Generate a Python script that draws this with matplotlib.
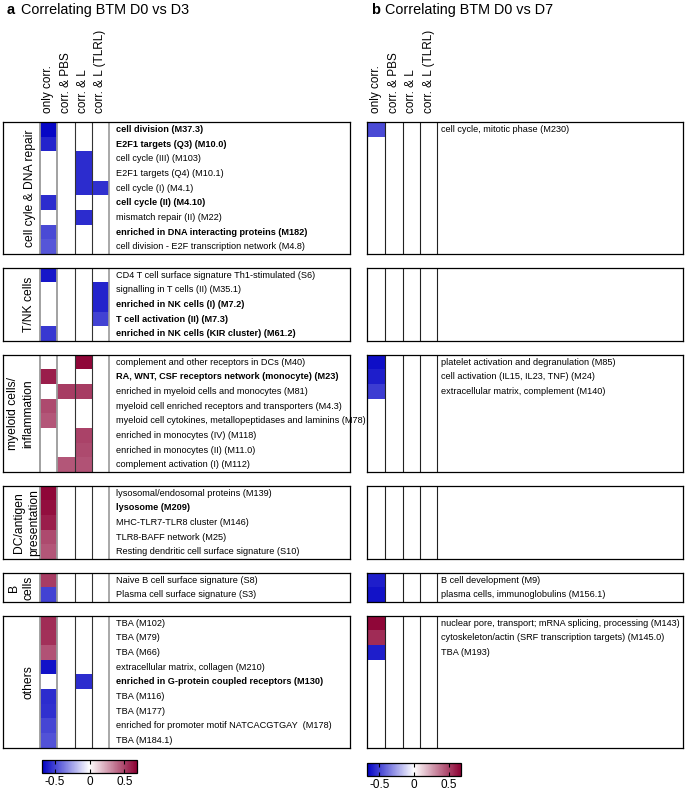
import numpy as np
import matplotlib
matplotlib.use("Agg")
import matplotlib.pyplot as plt
from matplotlib.colors import LinearSegmentedColormap, Normalize
from matplotlib.cm import ScalarMappable

plt.rcParams['font.family'] = ['Liberation Sans', 'DejaVu Sans']

nan = np.nan

# column headers
columns = ['only corr.', 'corr. & PBS', 'corr. & L', 'corr. & L (TLRL)']

# group names (panel a and b share them)
groups = ['cell cyle & DNA repair', 'T/NK cells', 'myeloid cells/\ninflammation',
          'DC/antigen\npresentation', 'B\ncells', 'others']

# ---- panel a: D0 vs D3 ----
cc_labels = ['cell division (M37.3)', 'E2F1 targets (Q3) (M10.0)', 'cell cycle (III) (M103)',
             'E2F1 targets (Q4) (M10.1)', 'cell cycle (I) (M4.1)', 'cell cycle (II) (M4.10)',
             'mismatch repair (II) (M22)', 'enriched in DNA interacting proteins (M182)',
             'cell division - E2F transcription network (M4.8)']
cc_bold = [1, 1, 0, 0, 0, 1, 0, 1, 0]
cc_vals = [[-0.66, nan, nan, nan],
           [-0.58, nan, nan, nan],
           [nan, nan, -0.56, nan],
           [nan, nan, -0.56, nan],
           [nan, nan, -0.56, -0.55],
           [-0.56, nan, nan, nan],
           [nan, nan, -0.56, nan],
           [-0.48, nan, nan, nan],
           [-0.45, nan, nan, nan]]

tnk_labels = ['CD4 T cell surface signature Th1-stimulated (S6)', 'signalling in T cells (II) (M35.1)',
              'enriched in NK cells (I) (M7.2)', 'T cell activation (II) (M7.3)',
              'enriched in NK cells (KIR cluster) (M61.2)']
tnk_bold = [0, 0, 1, 1, 1]
tnk_vals = [[-0.62, nan, nan, nan],
            [nan, nan, nan, -0.58],
            [nan, nan, nan, -0.58],
            [nan, nan, nan, -0.5],
            [-0.53, nan, nan, nan]]

mye_labels = ['complement and other receptors in DCs (M40)',
              'RA, WNT, CSF receptors network (monocyte) (M23)',
              'enriched in myeloid cells and monocytes (M81)',
              'myeloid cell enriched receptors and transporters (M4.3)',
              'myeloid cell cytokines, metallopeptidases and laminins (M78)',
              'enriched in monocytes (IV) (M118)', 'enriched in monocytes (II) (M11.0)',
              'complement activation (I) (M112)']
mye_bold = [0, 1, 0, 0, 0, 0, 0, 0]
mye_vals = [[nan, nan, 0.66, nan],
            [0.6, nan, nan, nan],
            [nan, 0.52, 0.52, nan],
            [0.48, nan, nan, nan],
            [0.45, nan, nan, nan],
            [nan, nan, 0.5, nan],
            [nan, nan, 0.48, nan],
            [nan, 0.45, 0.46, nan]]

dc_labels = ['lysosomal/endosomal proteins (M139)', 'lysosome (M209)', 'MHC-TLR7-TLR8 cluster (M146)',
             'TLR8-BAFF network (M25)', 'Resting dendritic cell surface signature (S10)']
dc_bold = [0, 1, 0, 0, 0]
dc_vals = [[0.66, nan, nan, nan],
           [0.64, nan, nan, nan],
           [0.6, nan, nan, nan],
           [0.48, nan, nan, nan],
           [0.45, nan, nan, nan]]

b_labels = ['Naive B cell surface signature (S8)', 'Plasma cell surface signature (S3)']
b_bold = [0, 0]
b_vals = [[0.52, nan, nan, nan],
          [-0.5, nan, nan, nan]]

oth_labels = ['TBA (M102)', 'TBA (M79)', 'TBA (M66)', 'extracellular matrix, collagen (M210)',
              'enriched in G-protein coupled receptors (M130)', 'TBA (M116)', 'TBA (M177)',
              'enriched for promoter motif NATCACGTGAY  (M178)', 'TBA (M184.1)']
oth_bold = [0, 0, 0, 0, 1, 0, 0, 0, 0]
oth_vals = [[0.56, nan, nan, nan],
            [0.55, nan, nan, nan],
            [0.46, nan, nan, nan],
            [-0.63, nan, nan, nan],
            [nan, nan, -0.56, nan],
            [-0.56, nan, nan, nan],
            [-0.55, nan, nan, nan],
            [-0.49, nan, nan, nan],
            [-0.46, nan, nan, nan]]

# ---- panel b: D0 vs D7 (only "only corr." column has hits) ----
b7_cc_labels = ['cell cycle, mitotic phase (M230)']
b7_cc_vals = [-0.48]
b7_tnk_labels = []
b7_tnk_vals = []
b7_mye_labels = ['platelet activation and degranulation (M85)', 'cell activation (IL15, IL23, TNF) (M24)',
                 'extracellular matrix, complement (M140)']
b7_mye_vals = [-0.64, -0.6, -0.52]
b7_dc_labels = []
b7_dc_vals = []
b7_b_labels = ['B cell development (M9)', 'plasma cells, immunoglobulins (M156.1)']
b7_b_vals = [-0.6, -0.63]
b7_oth_labels = ['nuclear pore, transport; mRNA splicing, processing (M143)',
                 'cytoskeleton/actin (SRF transcription targets) (M145.0)', 'TBA (M193)']
b7_oth_vals = [0.66, 0.56, -0.6]

a_labels = [cc_labels, tnk_labels, mye_labels, dc_labels, b_labels, oth_labels]
a_bold = [cc_bold, tnk_bold, mye_bold, dc_bold, b_bold, oth_bold]
a_vals = [cc_vals, tnk_vals, mye_vals, dc_vals, b_vals, oth_vals]
d7_labels = [b7_cc_labels, b7_tnk_labels, b7_mye_labels, b7_dc_labels, b7_b_labels, b7_oth_labels]
d7_vals = [b7_cc_vals, b7_tnk_vals, b7_mye_vals, b7_dc_vals, b7_b_vals, b7_oth_vals]

# ---- layout (pixels) ----
W, H = 685, 791
fig = plt.figure(figsize=(W / 100, H / 100), dpi=100)


def rect(x0, y0, x1, y1):
    return [x0 / W, 1 - y1 / H, (x1 - x0) / W, (y1 - y0) / H]


cmap = LinearSegmentedColormap.from_list('bwr_btm', ['#0000C4', '#FFFFFF', '#8C0033'])
vlim = 0.68
norm = Normalize(-vlim, vlim)

row_h = 14.68
gap = 13.6
top = 122

a_x0, a_x1 = 3, 350
a_edges = [40, 57, 74.5, 92, 108.5]
b_x0, b_x1 = 367, 683
b_edges = [367, 385, 402.5, 420, 437.5]
group_label_x = [30, 29, 20.5, 26.5, 21.5, 29]

y = top
for g, name in enumerate(groups):
    n = len(a_labels[g])
    y1 = y + n * row_h

    # panel a box
    ax = fig.add_axes(rect(a_x0, y, a_x1, y1))
    vals = np.ma.masked_invalid(np.array(a_vals[g], dtype=float))
    ax.pcolormesh(a_edges, np.arange(n + 1), vals, cmap=cmap, norm=norm)
    ax.set_xlim(a_x0, a_x1)
    ax.set_ylim(n, 0)
    for xe, c, lw in zip(a_edges, ['#9a9a9a', '#9a9a9a', '#333333', '#333333', '#9a9a9a'],
                         [1.3, 1.3, 0.8, 0.8, 1.2]):
        ax.axvline(xe, color=c, lw=lw)
    for i, (lab, bd) in enumerate(zip(a_labels[g], a_bold[g])):
        ax.text(116, i + 0.5, lab, va='center', ha='left', fontsize=6.6,
                fontweight='bold' if bd else 'normal', clip_on=False)
    ax.text(group_label_x[g], n / 2, name, rotation=90, ha='center', va='center',
            fontsize=8.7, linespacing=1.3)
    ax.set_xticks([])
    ax.set_yticks([])
    for s in ax.spines.values():
        s.set_linewidth(0.9)

    # panel b box
    bx = fig.add_axes(rect(b_x0, y, b_x1, y1))
    col = np.full((n, 4), np.nan)
    col[:len(d7_vals[g]), 0] = d7_vals[g]
    bx.pcolormesh(b_edges, np.arange(n + 1), np.ma.masked_invalid(col), cmap=cmap, norm=norm)
    bx.set_xlim(b_x0, b_x1)
    bx.set_ylim(n, 0)
    for xe in b_edges[1:]:
        bx.axvline(xe, color='#222222', lw=0.8)
    for i, lab in enumerate(d7_labels[g]):
        bx.text(441, i + 0.5, lab, va='center', ha='left', fontsize=6.6)
    bx.set_xticks([])
    bx.set_yticks([])
    for s in bx.spines.values():
        s.set_linewidth(0.9)

    y = y1 + gap

# titles
fig.text(7 / W, 1 - 10 / H, 'a', fontsize=10.5, fontweight='bold', va='center')
fig.text(21 / W, 1 - 10 / H, 'Correlating BTM D0 vs D3', fontsize=10.4, va='center')
fig.text(371 / W, 1 - 10 / H, 'b', fontsize=10.5, fontweight='bold', va='center')
fig.text(385 / W, 1 - 10 / H, 'Correlating BTM D0 vs D7', fontsize=10.4, va='center')

# column headers
for edges in (a_edges, b_edges):
    for j, lab in enumerate(columns):
        xc = (edges[j] + edges[j + 1]) / 2
        fig.text(xc / W, 1 - 113 / H, lab, rotation=90, ha='center', va='bottom', fontsize=8.5)

# colorbars
for (x0, y0, x1, y1) in [(42, 760, 137, 773), (367, 763, 461, 776)]:
    cax = fig.add_axes(rect(x0, y0, x1, y1))
    cb = fig.colorbar(ScalarMappable(norm=norm, cmap=cmap), cax=cax, orientation='horizontal',
                      ticks=[-0.5, 0, 0.5])
    cb.ax.set_xticklabels(['-0.5', '0', '0.5'])
    cb.ax.tick_params(direction='in', length=3, width=0.8, top=True, labelsize=8.5, pad=2)
    cb.outline.set_linewidth(0.9)

fig.savefig('out.png', dpi=100)
